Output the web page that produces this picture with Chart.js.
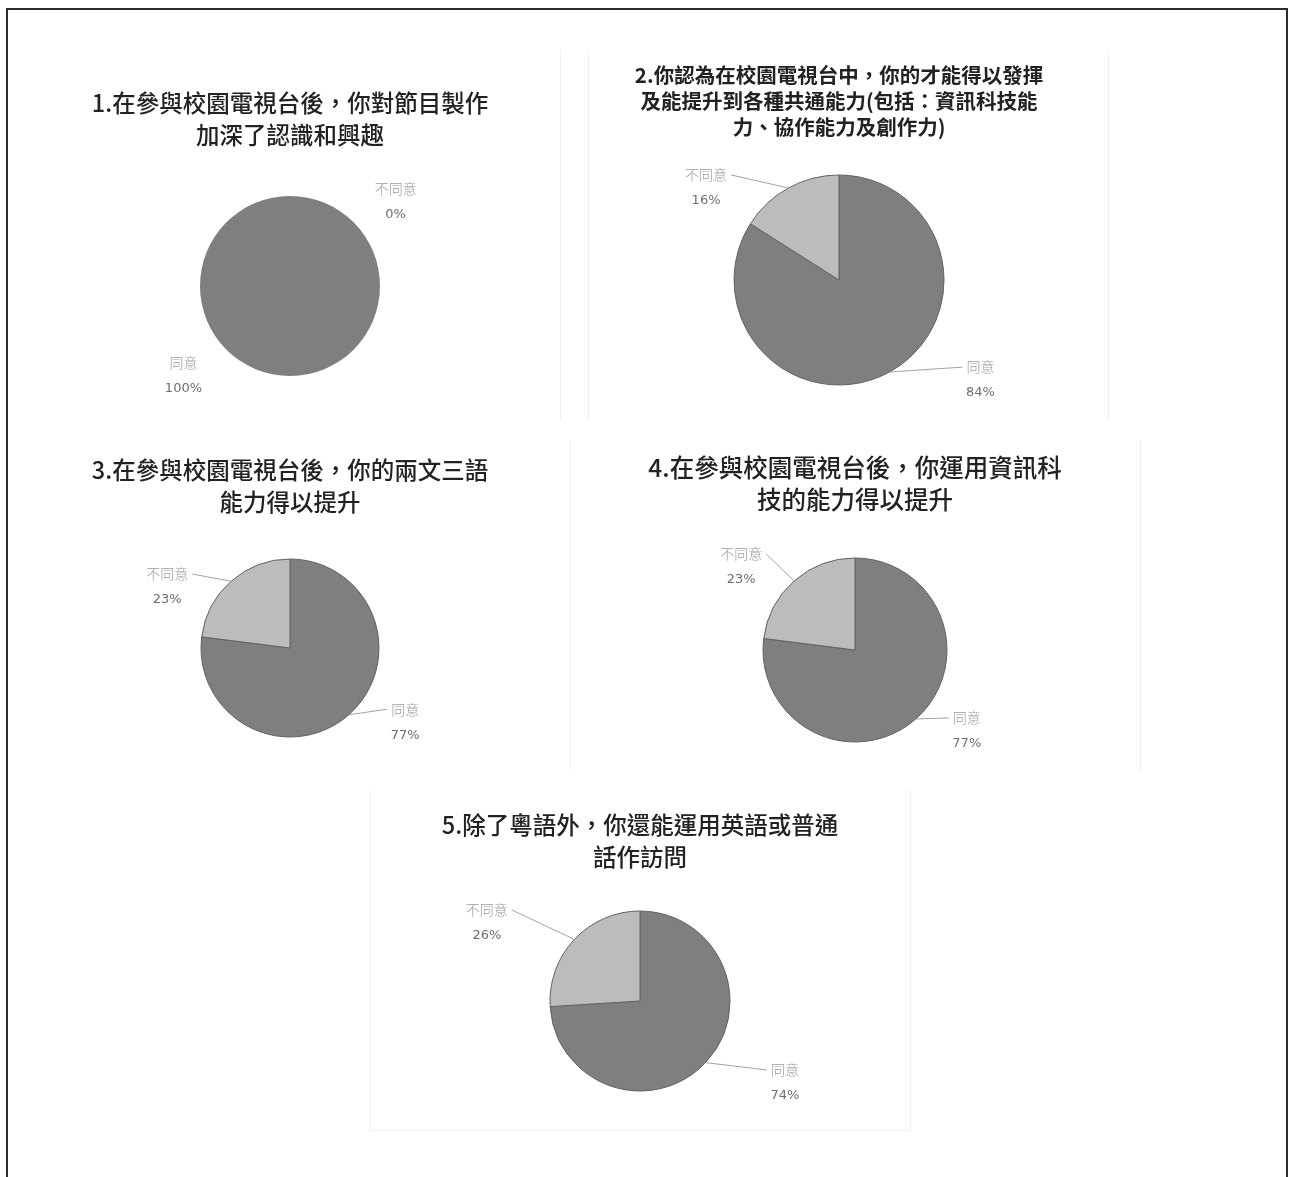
<!DOCTYPE html>
<html>
<head>
<meta charset="utf-8">
<script src="https://cdn.jsdelivr.net/npm/chart.js@4.4.1/dist/chart.umd.min.js"></script>
<style>
  html, body { margin: 0; padding: 0; background: #fff; }
  body { width: 1293px; height: 1177px; position: relative; overflow: hidden; }
  #frame { position: absolute; left: 6px; top: 8px; width: 1282px; height: 1220px; border: 2px solid #2b2b2b; box-sizing: border-box; }
  .box { position: absolute; }
  .guide { position: absolute; background: #f0f0f0; }
</style>
</head>
<body>
<div id="frame"></div>
<div class="guide" style="left:560px;top:50px;width:1px;height:370px"></div>
<div class="guide" style="left:588px;top:50px;width:1px;height:370px"></div>
<div class="guide" style="left:1108px;top:50px;width:1px;height:370px"></div>
<div class="guide" style="left:570px;top:440px;width:1px;height:330px"></div>
<div class="guide" style="left:1140px;top:440px;width:1px;height:330px"></div>
<div class="guide" style="left:370px;top:790px;width:1px;height:340px"></div>
<div class="guide" style="left:910px;top:790px;width:1px;height:340px"></div>
<div class="guide" style="left:370px;top:1130px;width:540px;height:1px"></div>

<div class="box" style="left:50px;top:60px;width:480px;height:361px"><canvas id="c1"></canvas></div>
<div class="box" style="left:589px;top:40px;width:500px;height:380px"><canvas id="c2"></canvas></div>
<div class="box" style="left:50px;top:430px;width:480px;height:348px"><canvas id="c3"></canvas></div>
<div class="box" style="left:605px;top:428px;width:500px;height:356px"><canvas id="c4"></canvas></div>
<div class="box" style="left:390px;top:785px;width:500px;height:344px"><canvas id="c5"></canvas></div>

<script>
// survey answers (percent)
const categories = ['同意', '不同意'];
const agree = [100, 84, 77, 77, 74];
const disagree = [0, 16, 23, 23, 26];
const titles = [
    ['1.在參與校園電視台後，你對節目製作', '加深了認識和興趣'],
    ['2.你認為在校園電視台中，你的才能得以發揮', '及能提升到各種共通能力(包括：資訊科技能', '力、協作能力及創作力)'],
    ['3.在參與校園電視台後，你的兩文三語', '能力得以提升'],
    ['4.在參與校園電視台後，你運用資訊科', '技的能力得以提升'],
    ['5.除了粵語外，你還能運用英語或普通', '話作訪問']
];

// look of each panel: title font, pie radius, label placement (clock degrees, radius multiples)
const panels = [
    { id: 'c1', size: 23.5, line: 32, padTop: 27, weight: '500', radius: 90, leaders: false, labelAt: [[229.8, 1.55], [51.5, 1.5]] },
    { id: 'c2', size: 20.5, line: 26, padTop: 22, weight: 'bold', radius: 105, leaders: true, labelAt: [[125.3, 1.65], [304.7, 1.54]] },
    { id: 'c3', size: 23.5, line: 32, padTop: 24, weight: '500', radius: 89, leaders: true, labelAt: [[122.8, 1.54], [296.4, 1.54]] },
    { id: 'c4', size: 24.5, line: 32, padTop: 24, weight: '500', radius: 92, leaders: true, labelAt: [[125.9, 1.5], [306.1, 1.53]] },
    { id: 'c5', size: 23.5, line: 32, padTop: 24, weight: '500', radius: 90, leaders: true, labelAt: [[119.5, 1.85], [297, 1.91]] }
];

const sliceLabels = {
    id: 'sliceLabels',
    afterDatasetsDraw(chart, args, opts) {
        const ctx = chart.ctx;
        const meta = chart.getDatasetMeta(0);
        const values = chart.data.datasets[0].data;
        ctx.save();
        meta.data.forEach(function(arc, i) {
            const R = arc.outerRadius;
            const pos = opts.labelAt[i];
            const a = (pos[0] - 90) * Math.PI / 180;
            const lx = arc.x + Math.cos(a) * R * pos[1];
            const ly = arc.y + Math.sin(a) * R * pos[1];
            const nameY = ly - 13;
            const pctY = ly + 13;

            ctx.font = '300 14px "Noto Sans CJK TC"';
            const w = ctx.measureText(chart.data.labels[i]).width;

            if (opts.leaders && values[i] > 0) {
                const mid = (arc.startAngle + arc.endAngle) / 2;
                const ex = arc.x + Math.cos(mid) * R;
                const ey = arc.y + Math.sin(mid) * R;
                const tx = lx > arc.x ? lx - w / 2 - 4 : lx + w / 2 + 4;
                ctx.strokeStyle = '#a3a3a3';
                ctx.lineWidth = 1;
                ctx.beginPath();
                ctx.moveTo(ex, ey);
                ctx.lineTo(tx, nameY);
                ctx.stroke();
            }

            ctx.textAlign = 'center';
            ctx.textBaseline = 'middle';
            ctx.fillStyle = '#9a9a9a';
            ctx.fillText(chart.data.labels[i], lx, nameY);
            ctx.font = '13px "DejaVu Sans"';
            ctx.fillStyle = '#6e6e6e';
            ctx.fillText(values[i] + '%', lx, pctY);
        });
        ctx.restore();
    }
};

panels.forEach(function(p, k) {
    const values = [agree[k], disagree[k]];
    // a whole-circle slice gets no border, otherwise a radius line shows at the top
    const border = values.includes(0) ? 0 : 1;
    new Chart(document.getElementById(p.id), {
        type: 'pie',
        data: {
            labels: categories,
            datasets: [{
                data: values,
                backgroundColor: ['#7f7f7f', '#bcbcbc'],
                borderColor: '#626262',
                borderWidth: border
            }]
        },
        options: {
            responsive: true,
            maintainAspectRatio: false,
            animation: false,
            radius: p.radius,
            layout: { padding: 0 },
            plugins: {
                legend: { display: false },
                tooltip: { enabled: false },
                title: {
                    display: true,
                    text: titles[k],
                    color: '#222',
                    font: { family: '"Noto Sans CJK TC"', size: p.size, weight: p.weight, lineHeight: p.line + 'px' },
                    padding: { top: p.padTop, bottom: 0 }
                },
                sliceLabels: { labelAt: p.labelAt, leaders: p.leaders }
            }
        },
        plugins: [sliceLabels]
    });
});
</script>
</body>
</html>
